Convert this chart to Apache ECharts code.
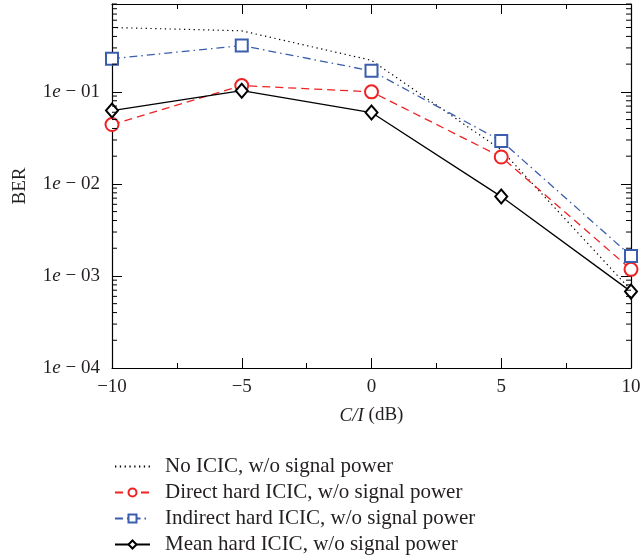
<!DOCTYPE html>
<html>
<head>
<meta charset="utf-8">
<title>BER vs C/I</title>
<script src="https://cdn.jsdelivr.net/npm/echarts@6/dist/echarts.min.js"></script>
</head>
<body style="margin:0;background:#fff;">
<div id="main" style="width:643px;height:558px;"></div>
<script type="text/javascript">

var ci = [-10, -5, 0, 5, 10];
var noIcic = [0.50, 0.46, 0.22, 0.0234, 0.00070];
var directHard = [0.0441, 0.117, 0.100, 0.0196, 0.00118];
var indirectHard = [0.229, 0.318, 0.169, 0.0293, 0.00165];
var meanHard = [0.0626, 0.103, 0.0596, 0.00728, 0.000676];
var seriesNames = [
  'No ICIC, w/o signal power',
  'Direct hard ICIC, w/o signal power',
  'Indirect hard ICIC, w/o signal power',
  'Mean hard ICIC, w/o signal power'
];
// minor ticks of the log axis: 2..9 of each decade
var minorTicks = [];
[1e-4, 1e-3, 1e-2, 1e-1].forEach(function (d) {
  for (var k = 2; k <= 9; k++) minorTicks.push(+(k * d).toPrecision(3));
});

var serif = '"Liberation Serif", "DejaVu Serif", serif';
var ink = '#231f20';
var chartDom = document.getElementById('main');
var myChart = echarts.init(chartDom);

function pairs(vals) {
  return ci.map(function (x, i) { return [x, vals[i]]; });
}

function yLabel(value) {
  var lg = Math.log10(value);
  var e = Math.round(lg);
  if (Math.abs(lg - e) > 1e-6) return '';
  return '1{i|e} \u2212 0' + (-e);
}

var xCommon = {
  type: 'value', min: -10, max: 10, interval: 5,
  axisLine: { show: true, onZero: false, lineStyle: { color: '#000', width: 1.2 } },
  axisTick: { inside: true, length: 10, lineStyle: { color: '#000' } },
  minorTick: { show: true, splitNumber: 2, length: 5, lineStyle: { color: '#000' } },
  splitLine: { show: false }
};
var yCommon = {
  type: 'log', logBase: 10, min: 1e-4, max: 0.9,
  axisLine: { show: true, onZero: false, lineStyle: { color: '#000', width: 1.2 } },
  axisTick: { inside: true, length: 10, lineStyle: { color: '#000' } },
  splitLine: { show: false }
};

var option = {
  animation: false,
  backgroundColor: '#fff',
  grid: { left: 112, right: 12, top: 4, bottom: 190, containLabel: false, outerBoundsMode: 'none' },
  legend: {
    orient: 'vertical', left: 114, top: 456, itemGap: 5, padding: 0,
    itemWidth: 35, itemHeight: 10,
    data: [
      { name: seriesNames[0], itemStyle: { opacity: 0 } },
      seriesNames[1], seriesNames[2], seriesNames[3]
    ],
    textStyle: { fontFamily: serif, fontSize: 21, lineHeight: 20, color: ink, padding: [0, 0, 0, 10] }
  },
  xAxis: [
    Object.assign({}, xCommon, {
      position: 'bottom',
      name: '{i|C/I} (dB)', nameLocation: 'middle', nameGap: 38,
      nameTextStyle: {
        fontFamily: serif, fontSize: 19, color: ink,
        rich: { i: { fontFamily: serif, fontSize: 19, fontStyle: 'italic', color: ink } }
      },
      axisLabel: {
        fontFamily: serif, fontSize: 19, color: ink, margin: 10,
        formatter: function (v) { return v < 0 ? '\u2212' + (-v) : '' + v; }
      }
    }),
    Object.assign({}, xCommon, { position: 'top', axisLabel: { show: false } })
  ],
  yAxis: [
    Object.assign({}, yCommon, {
      position: 'left',
      name: 'BER', nameLocation: 'middle', nameGap: 82, nameRotate: 90,
      nameTextStyle: { fontFamily: serif, fontSize: 19, color: ink },
      axisLabel: {
        showMaxLabel: false, fontFamily: serif, fontSize: 19, color: ink, margin: 12,
        formatter: yLabel,
        rich: { i: { fontFamily: serif, fontSize: 19, fontStyle: 'italic', color: ink } }
      }
    }),
    Object.assign({}, yCommon, { position: 'right', axisLabel: { show: false } })
  ],
  series: [
    {
      name: seriesNames[0], type: 'line', data: pairs(noIcic),
      symbol: 'none', showSymbol: false,
      lineStyle: { color: '#000', width: 1.2, type: [1.3, 3.5] },
      itemStyle: { color: '#000' }
    },
    {
      name: seriesNames[1], type: 'line', data: pairs(directHard),
      symbol: 'emptyCircle', symbolSize: 13,
      lineStyle: { color: '#ee2222', width: 1.3, type: [8, 5] },
      itemStyle: { color: '#ee2222', borderWidth: 1.3 }
    },
    {
      name: seriesNames[2], type: 'line', data: pairs(indirectHard),
      symbol: 'emptyRect', symbolSize: 12,
      lineStyle: { color: '#3a5dae', width: 1.3, type: [8, 4, 1.5, 4] },
      itemStyle: { color: '#3a5dae', borderWidth: 1.3 }
    },
    {
      name: seriesNames[3], type: 'line', data: pairs(meanHard),
      symbol: 'emptyDiamond', symbolSize: [12, 14],
      lineStyle: { color: '#000', width: 1.3 },
      itemStyle: { color: '#000', borderWidth: 1.3 }
    },
    {
      type: 'custom', silent: true, legendHoverLink: false,
      data: minorTicks.map(function (v) { return [-10, v]; }),
      renderItem: function (params, api) {
        var cs = params.coordSys;
        var y = api.coord([-10, api.value(1)])[1];
        var st = { stroke: '#000', lineWidth: 1 };
        return {
          type: 'group',
          children: [
            { type: 'line', shape: { x1: cs.x, y1: y, x2: cs.x + 5, y2: y }, style: st },
            { type: 'line', shape: { x1: cs.x + cs.width - 5, y1: y, x2: cs.x + cs.width, y2: y }, style: st }
          ]
        };
      },
      z: 5
    }
  ]
};

option && myChart.setOption(option);
</script>
</body>
</html>
